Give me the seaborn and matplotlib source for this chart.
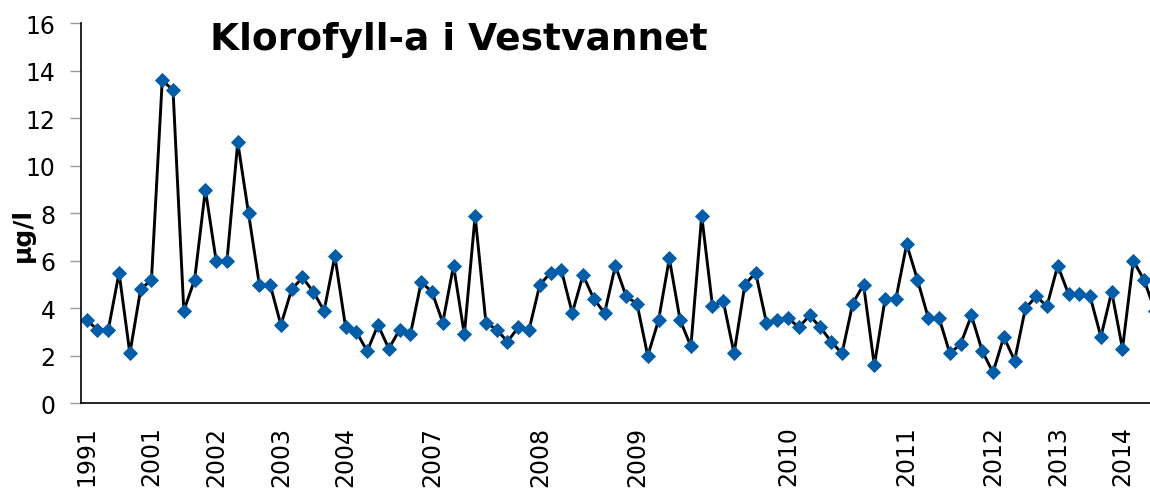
import numpy as np
import pandas as pd
import seaborn as sns
import matplotlib
matplotlib.use("Agg")
import matplotlib.pyplot as plt

# chlorophyll-a samples
chl = [3.5, 3.1, 3.1, 5.5, 2.1, 4.8, 5.2, 13.6, 13.2, 3.9,
       5.2, 9.0, 6.0, 6.0, 11.0, 8.0, 5.0, 5.0, 3.3, 4.8,
       5.3, 4.7, 3.9, 6.2, 3.2, 3.0, 2.2, 3.3, 2.3, 3.1,
       2.9, 5.1, 4.7, 3.4, 5.8, 2.9, 7.9, 3.4, 3.1, 2.6,
       3.2, 3.1, 5.0, 5.5, 5.6, 3.8, 5.4, 4.4, 3.8, 5.8,
       4.5, 4.2, 2.0, 3.5, 6.1, 3.5, 2.4, 7.9, 4.1, 4.3,
       2.1, 5.0, 5.5, 3.4, 3.5, 3.6, 3.2, 3.7, 3.2, 2.6,
       2.1, 4.2, 5.0, 1.6, 4.4, 4.4, 6.7, 5.2, 3.6, 3.6,
       2.1, 2.5, 3.7, 2.2, 1.3, 2.8, 1.8, 4.0, 4.5, 4.1,
       5.8, 4.6, 4.6, 4.5, 2.8, 4.7, 2.3, 6.0, 5.2, 3.9]

# first sample of each year gets a label
year_pos = [0, 6, 12, 18, 24, 32, 42, 51, 65, 76, 84, 90, 96]
year_lbl = ["1991", "2001", "2002", "2003", "2004", "2007", "2008",
            "2009", "2010", "2011", "2012", "2013", "2014"]

df = pd.DataFrame({"i": np.arange(len(chl)), "chl": chl})

sns.set_style("white")
plt.rcParams["font.family"] = ["DejaVu Sans"]
plt.rcParams["text.color"] = "black"
plt.rcParams["axes.labelcolor"] = "black"
plt.rcParams["xtick.color"] = "black"
plt.rcParams["ytick.color"] = "black"

fig = plt.figure(figsize=(11.5, 4.89), dpi=100)
ax = fig.add_axes([0.0707, 0.1732, 0.9293, 0.7768])

sns.lineplot(data=df, x="i", y="chl", ax=ax, color="black", lw=2.1,
             marker="D", ms=7.3, markerfacecolor="#005DAA",
             markeredgecolor="#005DAA", mew=0.6)

ax.set_ylim(0, 16)
ax.set_yticks(range(0, 17, 2))
ax.set_xlim(-0.5, 98.55)
ax.set_xticks(year_pos)
ax.set_xticklabels(year_lbl, rotation=90, va="top", ha="center")
ax.set_xlabel("")
ax.set_ylabel("")
fig.text(0.020, 0.52, "µg/l", fontsize=18, fontweight="bold",
         rotation=90, ha="center", va="center")

ax.tick_params(axis="y", length=8, width=1, color="#999999", pad=10.5,
               labelsize=17, labelcolor="black", direction="out", left=True)
ax.tick_params(axis="x", length=0, pad=16, labelsize=17, labelcolor="black")

for s in ["top", "right"]:
    ax.spines[s].set_visible(False)
for s in ["left", "bottom"]:
    ax.spines[s].set_color("black")
    ax.spines[s].set_linewidth(1.2)

fig.text(0.399, 1 - 50 / 489, "Klorofyll-a i Vestvannet", fontsize=27,
         fontweight="bold", ha="center", va="baseline")

fig.savefig("out.png", dpi=100)
